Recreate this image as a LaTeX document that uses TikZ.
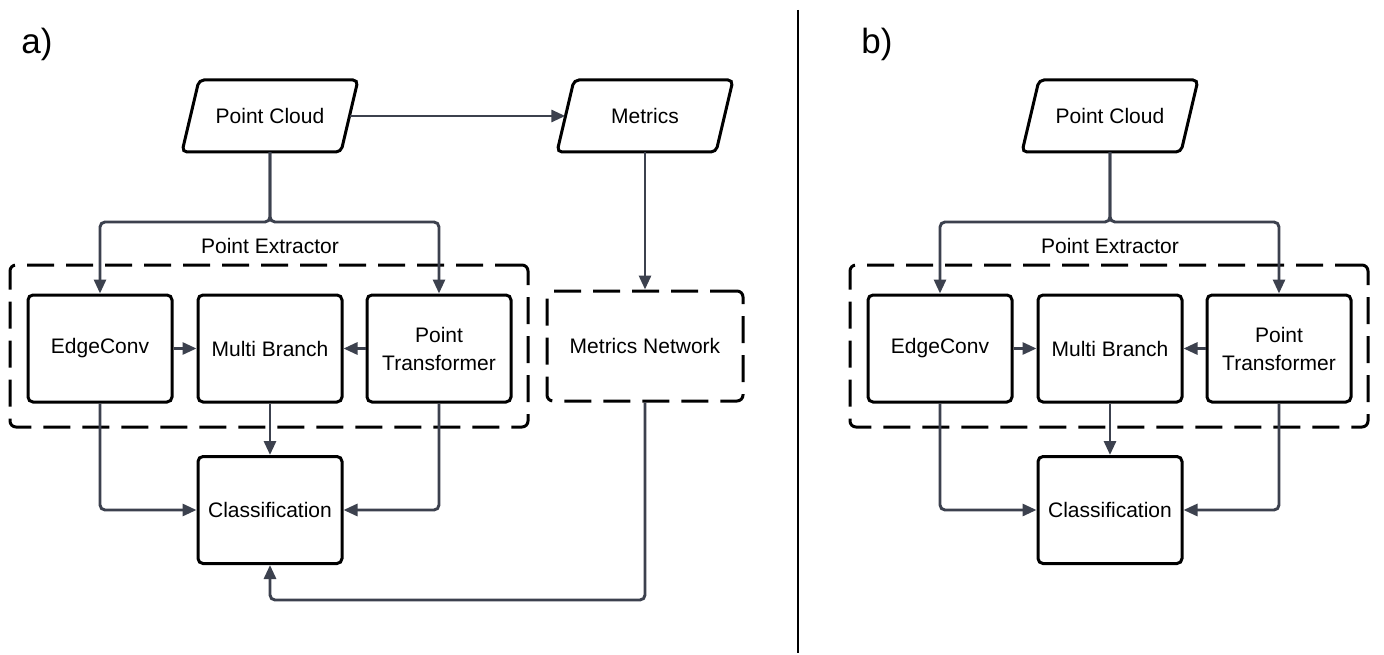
\documentclass[tikz,border=0pt]{standalone}
\usepackage{fontspec}
\setmainfont{Liberation Sans}
\usetikzlibrary{arrows.meta,calc}
\definecolor{conncol}{HTML}{3C414E}
\begin{document}
\begin{tikzpicture}[x=1pt,y=-1pt,
  every node/.style={font=\fontsize{21}{28}\selectfont, text=black},
  box/.style={draw=black, line width=3pt, rounded corners=5pt, minimum width=144pt, minimum height=107pt, align=center, inner sep=0pt},
  dbox/.style={draw=black, line width=3pt, rounded corners=6pt, dash pattern=on 27pt off 12pt, inner sep=0pt},
  para/.style={minimum width=159pt, minimum height=72pt, inner sep=0pt},
  parashape/.style={draw=black, line width=3pt, rounded corners=5pt},
  conn/.style={draw=conncol, line width=2.9pt, rounded corners=5pt, -{Triangle[length=14pt,width=12pt]}},
  panel/.style={font=\fontsize{35}{40}\selectfont},
  divider/.style={draw=black, line width=2.6pt}
]
\useasboundingbox[fill=white] (0,0) rectangle (1384,655);

% ---------------- Panel a ----------------
\node[panel] (la) at (37,44) {a)};

\node[para] (pc) at (270,116) {Point Cloud};
\draw[parashape] ([shift={(-71,-36)}]pc.center) -- ([shift={(88,-36)}]pc.center) -- ([shift={(71,36)}]pc.center) -- ([shift={(-88,36)}]pc.center) -- cycle;

\node[para] (met) at (645,116) {Metrics};
\draw[parashape] ([shift={(-71,-36)}]met.center) -- ([shift={(88,-36)}]met.center) -- ([shift={(71,36)}]met.center) -- ([shift={(-88,36)}]met.center) -- cycle;

\node[dbox, minimum width=518pt, minimum height=162pt] (pe) at (269,346) {};
\node (pel) at (270,246) {Point Extractor};

\node[box] (ec) at (100,348.5) {EdgeConv};
\node[box] (mb) at (270,348.5) {Multi Branch};
\node[box] (pt) at (439,348.5) {Point\\Transformer};
\node[box] (cls) at (270,510) {Classification};

\node[dbox, minimum width=196pt, minimum height=110pt] (mn) at (645,346) {Metrics Network};

\coordinate (ja) at (270,222);
\coordinate (fb) at (645,600);

\draw[conn] (pc.east) -- (met.west);
\draw[conn] (pc.south) -- (ja) -| (ec.north);
\draw[conn] (pc.south) -- (ja) -| (pt.north);
\draw[conn] (ec.east) -- (mb.west);
\draw[conn] (pt.west) -- (mb.east);
\draw[conn] (mb.south) -- (cls.north);
\draw[conn] (ec.south) |- (cls.west);
\draw[conn] (pt.south) |- (cls.east);
\draw[conn] (met.south) -- (mn.north);
\draw[conn] (mn.south) -- (fb) -| (cls.south);

% ---------------- divider ----------------
\coordinate (dt) at (798,10);
\coordinate (db) at (798,653);
\draw[divider] (dt) -- (db);

% ---------------- Panel b ----------------
\begin{scope}[xshift=840pt]
\node[panel] (lb) at (37,44) {b)};

\node[para] (bpc) at (270,116) {Point Cloud};
\draw[parashape] ([shift={(-71,-36)}]bpc.center) -- ([shift={(88,-36)}]bpc.center) -- ([shift={(71,36)}]bpc.center) -- ([shift={(-88,36)}]bpc.center) -- cycle;

\node[dbox, minimum width=518pt, minimum height=162pt] (bpe) at (269,346) {};
\node (bpel) at (270,246) {Point Extractor};

\node[box] (bec) at (100,348.5) {EdgeConv};
\node[box] (bmb) at (270,348.5) {Multi Branch};
\node[box] (bpt) at (439,348.5) {Point\\Transformer};
\node[box] (bcls) at (270,510) {Classification};

\coordinate (bja) at (270,222);

\draw[conn] (bpc.south) -- (bja) -| (bec.north);
\draw[conn] (bpc.south) -- (bja) -| (bpt.north);
\draw[conn] (bec.east) -- (bmb.west);
\draw[conn] (bpt.west) -- (bmb.east);
\draw[conn] (bmb.south) -- (bcls.north);
\draw[conn] (bec.south) |- (bcls.west);
\draw[conn] (bpt.south) |- (bcls.east);
\end{scope}
\end{tikzpicture}
\end{document}
